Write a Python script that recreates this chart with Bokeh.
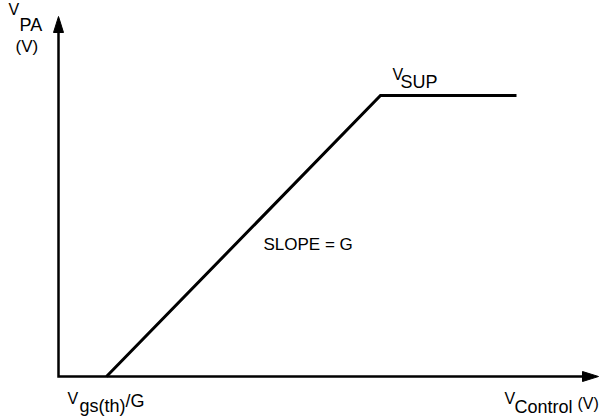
from bokeh.plotting import figure
from bokeh.models import Range1d
from bokeh.embed import file_html
from bokeh.resources import INLINE
from bokeh.core.properties import value

# Transfer characteristic of the PA supply: V_PA versus V_Control (arbitrary units)
v_control = [48, 322, 458]      # threshold Vgs(th)/G, saturation point, end of plateau
v_pa = [0, 281, 281]            # rises with slope G, then clamps at V_SUP
x_axis_end = 540                # arrow tip of the V_Control axis
y_axis_end = 360                # arrow tip of the V_PA axis
head_len, head_half = 16, 5     # arrowhead size in axis units

FONT = value("Liberation Sans")
INK = "#000000"
RAISE = 4                       # baseline correction for the text glyphs, px

p = figure(width=600, height=417, output_backend="svg", toolbar_location=None,
           x_range=Range1d(-58, 542), y_range=Range1d(-41, 376),
           min_border=0, outline_line_color=None)
p.axis.visible = False
p.grid.visible = False
p.background_fill_color = "white"
p.border_fill_color = "white"

# axes drawn as one polyline with arrowheads
p.line([0, 0, x_axis_end - head_len + 2], [y_axis_end - head_len + 2, 0, 0],
       line_color=INK, line_width=2.5, line_join="miter")
p.patch([x_axis_end, x_axis_end - head_len, x_axis_end - head_len],
        [0, head_half, -head_half], color=INK)
p.patch([0, head_half, -head_half],
        [y_axis_end, y_axis_end - head_len, y_axis_end - head_len], color=INK)

# the characteristic
p.line(v_control, v_pa, line_color=INK, line_width=3, line_join="miter")


def label(x, y, parts):
    for txt, dx, dy, size in parts:
        p.text(x=[x], y=[y], text=[txt], x_offset=dx, y_offset=dy - RAISE,
               text_font=FONT, text_font_size=f"{size}px", text_color=INK,
               text_align="left", text_baseline="alphabetic")


# V_PA (V) beside the vertical axis
label(0, y_axis_end, [("V", -50, -3, 16), ("PA", -39, 12, 18), ("(V)", -43, 34, 17)])
# Vgs(th)/G under the threshold point
label(v_control[0], 0, [("V", -39, 26, 16), ("gs(th)", -27, 33, 18), ("/G", 19, 28, 18)])
# V_Control (V) under the end of the horizontal axis
label(x_axis_end, 0, [("V", -94, 26, 16), ("Control", -84, 34, 18), ("(V)", -21, 31, 16)])
# V_SUP above the plateau
label(v_control[1], v_pa[1], [("V", 12, -17, 16), ("SUP", 20, -10, 18)])
# slope annotation next to the ramp
label((v_control[0] + v_control[1]) / 2, (v_pa[0] + v_pa[1]) / 2,
      [("SLOPE = G", 20, 12.5, 17)])

open("out.html", "w").write(file_html(p, INLINE))
